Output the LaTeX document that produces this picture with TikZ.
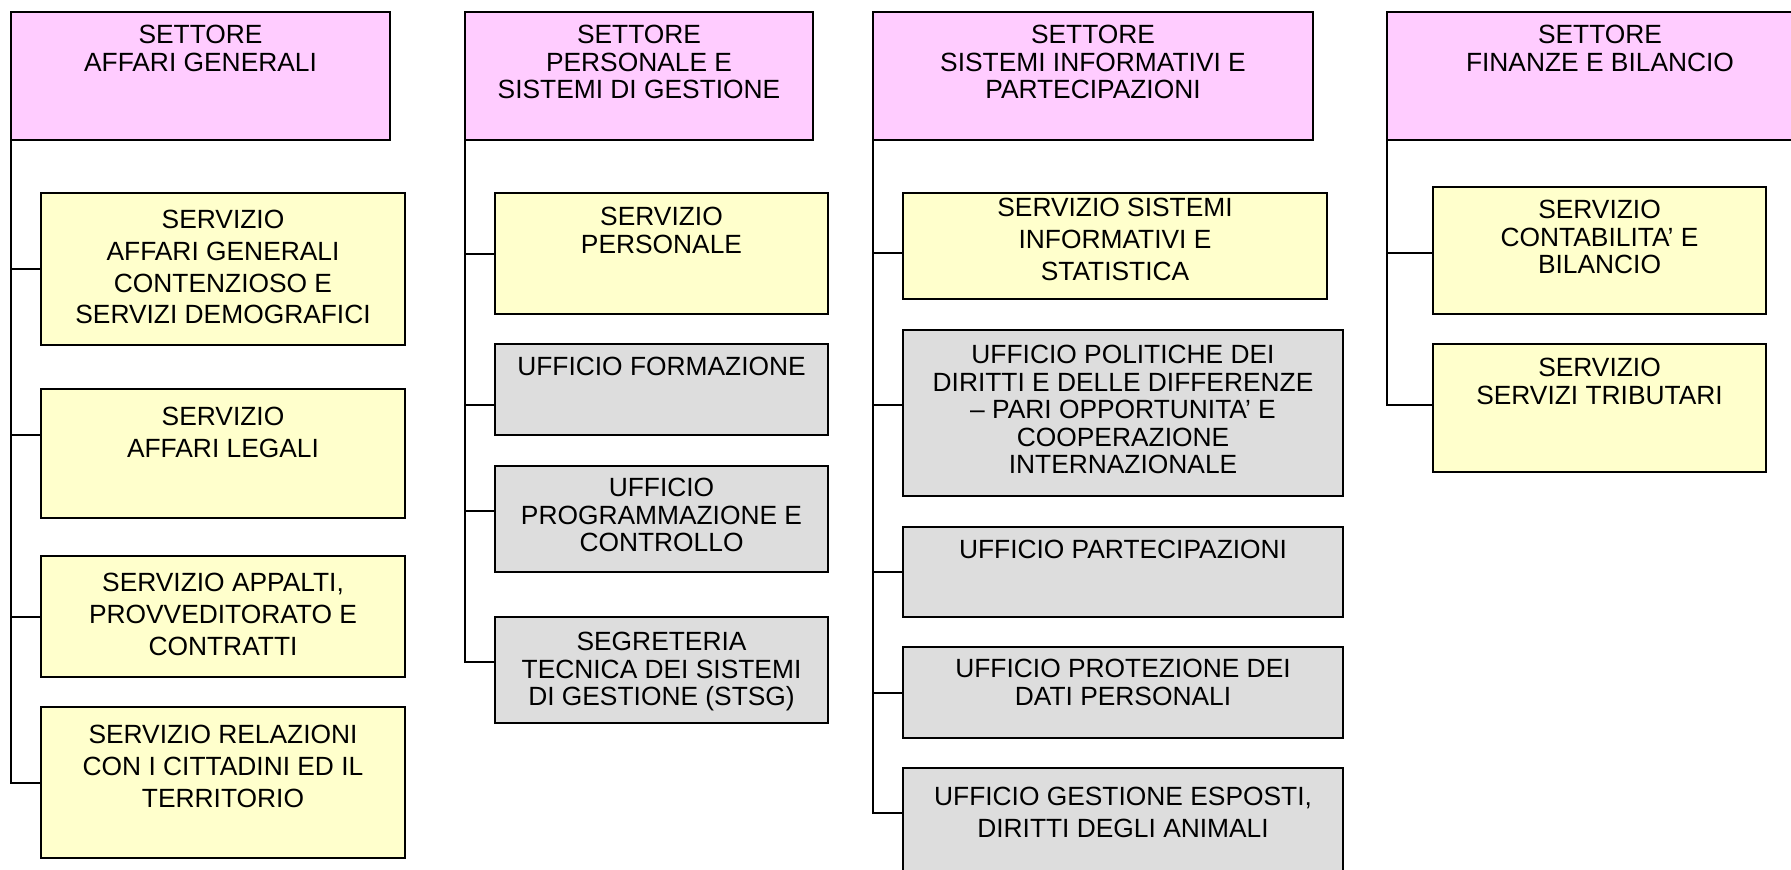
\documentclass[tikz,border=0pt]{standalone}
\usepackage{fontspec}
\setmainfont{Liberation Sans}

% one pixel of the reference
\newlength{\px}
\setlength{\px}{0.02cm}
% width, height, gap above the first line, text
\newcommand{\cellbox}[4]{\parbox[c][#2\px][t]{#1\px}{\centering\vspace*{#3\px}#4\par}}

\definecolor{settorefill}{HTML}{FFCCFF}
\definecolor{serviziofill}{HTML}{FFFFCC}
\definecolor{ufficiofill}{HTML}{DDDDDD}

\begin{document}
\begin{tikzpicture}[
		x=0.02cm, y=-0.02cm,
		% Boxes of the chart
		unit/.style={draw=black, line width=0.04cm, inner sep=0pt, outer sep=0pt,
			anchor=north west, font=\fontsize{15pt}{15.6pt}\selectfont},
		settore/.style={unit, fill=settorefill},
		servizio/.style={unit, fill=serviziofill},
		ufficio/.style={unit, fill=ufficiofill},
		spaced/.style={font=\fontsize{15pt}{18pt}\selectfont},
		% Connectors
		link/.style={draw=black, line width=0.04cm}
		]
		\clip (0,0) rectangle (1791,869);
		
		% ==============================================================================
		% SETTORE AFFARI GENERALI
		% ==============================================================================
		\node[settore] (h1) at (11,12) {\cellbox{379}{128}{13.5}{SETTORE\\AFFARI GENERALI}};
		\node[servizio, spaced] (s1) at (41,193) {\cellbox{364}{152}{17.5}{SERVIZIO\\AFFARI GENERALI\\CONTENZIOSO E\\SERVIZI DEMOGRAFICI}};
		\node[servizio, spaced] (s2) at (41,389) {\cellbox{364}{129}{18.5}{SERVIZIO\\AFFARI LEGALI}};
		\node[servizio, spaced] (s3) at (41,556) {\cellbox{364}{121}{17.5}{SERVIZIO APPALTI,\\PROVVEDITORATO E\\CONTRATTI}};
		\node[servizio, spaced] (s4) at (41,707) {\cellbox{364}{151}{18.5}{SERVIZIO RELAZIONI\\CON I CITTADINI ED IL\\TERRITORIO}};
		
		% ==============================================================================
		% SETTORE PERSONALE E SISTEMI DI GESTIONE
		% ==============================================================================
		\node[settore] (h2) at (465,12) {\cellbox{348}{128}{13.5}{SETTORE\\PERSONALE E\\SISTEMI DI GESTIONE}};
		\node[servizio] (p1) at (495,193) {\cellbox{333}{121}{14.5}{SERVIZIO\\PERSONALE}};
		\node[ufficio] (p2) at (495,344) {\cellbox{333}{91}{13.5}{UFFICIO FORMAZIONE}};
		\node[ufficio] (p3) at (495,466) {\cellbox{333}{106}{12.5}{UFFICIO\\PROGRAMMAZIONE E\\CONTROLLO}};
		\node[ufficio] (p4) at (495,617) {\cellbox{333}{106}{15.5}{SEGRETERIA\\TECNICA DEI SISTEMI\\DI GESTIONE (STSG)}};
		
		% ==============================================================================
		% SETTORE SISTEMI INFORMATIVI E PARTECIPAZIONI
		% ==============================================================================
		\node[settore] (h3) at (873,12) {\cellbox{440}{128}{13.5}{SETTORE\\SISTEMI INFORMATIVI E\\PARTECIPAZIONI}};
		\node[servizio, spaced] (i1) at (903,193) {\cellbox{424}{106}{5.5}{SERVIZIO SISTEMI\\INFORMATIVI E\\STATISTICA}};
		\node[ufficio] (i2) at (903,330) {\cellbox{440}{166}{15.5}{UFFICIO POLITICHE DEI\\DIRITTI E DELLE DIFFERENZE\\– PARI OPPORTUNITA’ E\\COOPERAZIONE\\INTERNAZIONALE}};
		\node[ufficio] (i3) at (903,527) {\cellbox{440}{90}{13.5}{UFFICIO PARTECIPAZIONI}};
		\node[ufficio] (i4) at (903,647) {\cellbox{440}{91}{12.5}{UFFICIO PROTEZIONE DEI\\DATI PERSONALI}};
		\node[ufficio, spaced] (i5) at (903,768) {\cellbox{440}{120}{19.5}{UFFICIO GESTIONE ESPOSTI,\\DIRITTI DEGLI ANIMALI}};
		
		% ==============================================================================
		% SETTORE FINANZE E BILANCIO
		% ==============================================================================
		\node[settore] (h4) at (1387,12) {\cellbox{426}{128}{13.5}{SETTORE\\FINANZE E BILANCIO}};
		\node[servizio] (f1) at (1433,187) {\cellbox{333}{127}{13.5}{SERVIZIO\\CONTABILITA’ E\\BILANCIO}};
		\node[servizio] (f2) at (1433,344) {\cellbox{333}{128}{14.5}{SERVIZIO\\SERVIZI TRIBUTARI}};
		
		% Branches: box -> trunk under the left edge of its settore
		\foreach \sub/\dy/\head in {s1/0/h1, s2/18.5/h1, s3/0/h1, s4/0/h1,
				p1/0/h2, p2/-15.5/h2, p3/8/h2, p4/8/h2,
				i1/-7/h3, i2/8/h3, i3/0/h3, i4/0/h3, i5/15.5/h3,
				f1/-2.5/h4, f2/3/h4}
			\draw[link] ([yshift=\dy\px]\sub.west) -| (\head.south west);
	\end{tikzpicture}
\end{document}
